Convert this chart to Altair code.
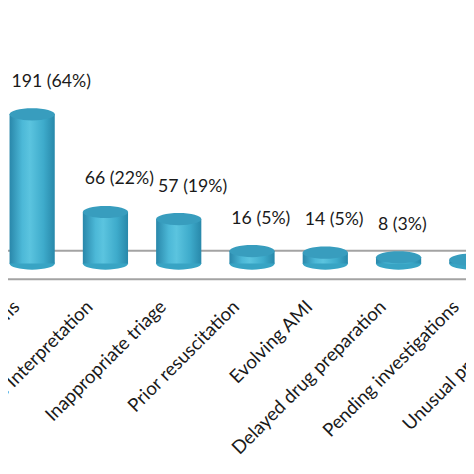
import altair as alt
import pandas as pd

categories = [
    "Atypical symptoms",
    "ECG Interpretation",
    "Inappropriate triage",
    "Prior resuscitation",
    "Evolving AMI",
    "Delayed drug preparation",
    "Pending investigations",
    "Unusual presentation",
]
values = [191, 66, 57, 16, 14, 8, 5, 4]
value_labels = ["191 (64%)", "66  (22%)", "57 (19%)", "16 (5%)", "14 (5%)", "8 (3%)", "", ""]

df = pd.DataFrame({
    "cat": categories,
    "idx": list(range(len(categories))),
    "value": values,
    "zero": [0] * len(categories),
    "label": value_labels,
})

W, H = 466, 466
xs = alt.Scale(domain=[-0.2625, 5.853], nice=False, zero=False)
ys = alt.Scale(domain=[-264.2, 322.0], nice=False, zero=False)
X = alt.X("idx:Q", scale=xs, axis=None)

body_grad = alt.LinearGradient(
    gradient="linear", x1=0, x2=1, y1=0, y2=0,
    stops=[
        alt.GradientStop(color="#2987aa", offset=0),
        alt.GradientStop(color="#4cb8d7", offset=0.28),
        alt.GradientStop(color="#5bc4df", offset=0.45),
        alt.GradientStop(color="#3eabcb", offset=0.75),
        alt.GradientStop(color="#2888aa", offset=1),
    ],
)
ellipse = "M -1 0 A 1 0.27 0 1 0 1 0 A 1 0.27 0 1 0 -1 0 Z"

base = alt.Chart(df)

rule_back = alt.Chart(pd.DataFrame({"k": [0]})).mark_rule(color="#a3a3a3", strokeWidth=2).encode(
    x=alt.value(0), x2=alt.value(W), y=alt.value(243)
)
rule_front = alt.Chart(pd.DataFrame({"k": [0]})).mark_rule(color="#a3a3a3", strokeWidth=2).encode(
    x=alt.value(0), x2=alt.value(W), y=alt.value(272)
)

bottom = base.mark_point(
    shape=ellipse, size=2116, filled=True, color="#38a4c4", strokeOpacity=0, opacity=1, clip=True
).encode(x=X, y=alt.Y("zero:Q", scale=ys, axis=None))

body = base.mark_bar(width=46, color=body_grad, clip=True).encode(
    x=X, y=alt.Y("value:Q", scale=ys, axis=None), y2="zero:Q"
)

top = base.mark_point(
    shape=ellipse, size=2116, filled=True, color="#389dbe", strokeOpacity=0, opacity=1, clip=True
).encode(x=X, y=alt.Y("value:Q", scale=ys, axis=None))

vlabels = base.mark_text(
    font="Lato", fontSize=18, color="#1a1a1a", baseline="middle", align="left",
    yOffset=-33, xOffset=-21, clip=True
).encode(x=X, y=alt.Y("value:Q", scale=ys, axis=None), text="label:N")

clabels = base.mark_text(
    font="Lato", fontSize=19, color="#1a1a1a", angle=315, align="right", baseline="middle",
    xOffset=-16, clip=True
).encode(x=X, y=alt.value(297), text="cat:N")

chart = alt.layer(rule_back, rule_front, bottom, body, top, vlabels, clabels).properties(
    width=W, height=H, padding=0, autosize=alt.AutoSizeParams(type="none"), background="white"
).configure_view(stroke=None)

chart.save("out.html", embed_options={"renderer": "svg", "actions": False})
